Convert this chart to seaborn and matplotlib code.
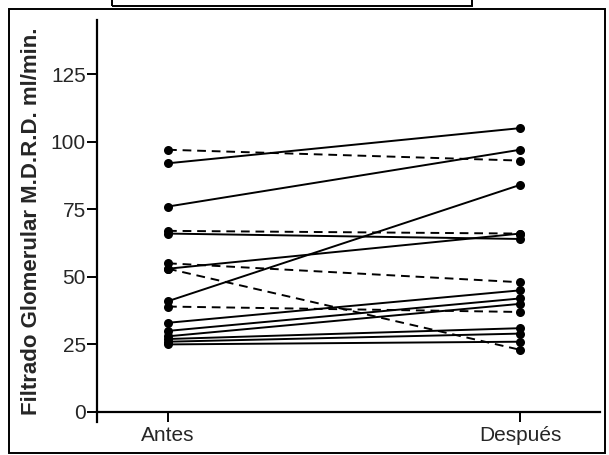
import pandas as pd
import numpy as np
import matplotlib
matplotlib.use('Agg')
import matplotlib.pyplot as plt
import seaborn as sns
from matplotlib.patches import Rectangle

# Valores (ml/min), un paciente por posicion
antes = [97, 92, 76, 67, 66, 55, 53, 53, 41, 39, 33, 30, 28, 27, 26, 25]
despues = [93, 105, 97, 66, 64, 48, 66, 23, 84, 37, 45, 42, 40, 31, 29, 26]
tipo_linea = ['discontinua', 'continua', 'continua', 'discontinua', 'continua',
              'discontinua', 'continua', 'discontinua', 'continua', 'discontinua',
              'continua', 'continua', 'continua', 'continua', 'continua', 'continua']
momentos = ['Antes', 'Después']
y_ticks = [0, 25, 50, 75, 100, 125]

sns.set_style('ticks')
plt.rcParams['font.family'] = ['Liberation Sans', 'DejaVu Sans']

rows = []
for i in range(len(antes)):
    rows.append({'paciente': i, 'x': 0, 'valor': antes[i], 'linea': tipo_linea[i]})
    rows.append({'paciente': i, 'x': 1, 'valor': despues[i], 'linea': tipo_linea[i]})
df = pd.DataFrame(rows)

fig = plt.figure(figsize=(6.09, 4.55), dpi=100)
ax = fig.add_axes([97 / 609, 1 - 422 / 455, (600 - 97) / 609, (422 - 20) / 455])

sns.lineplot(data=df, x='x', y='valor', units='paciente', estimator=None,
             style='linea', dashes={'continua': '', 'discontinua': (4.5, 3)},
             markers={'continua': 'o', 'discontinua': 'o'}, color='black',
             linewidth=1.4, markersize=6.5, markeredgewidth=0,
             legend=False, ax=ax)

ax.set_xlim(-0.2017, 1.227)
ax.set_ylim(-3.7, 145)
ax.spines['bottom'].set_position(('data', 0))
ax.spines['top'].set_visible(False)
ax.spines['right'].set_visible(False)
for s in ['left', 'bottom']:
    ax.spines[s].set_linewidth(1.6)
    ax.spines[s].set_color('black')

ax.set_xticks([0, 1])
ax.set_xticklabels(momentos, fontsize=15)
ax.set_yticks(y_ticks)
ax.set_yticklabels([str(t) for t in y_ticks], fontsize=15)
ax.tick_params(axis='both', length=7, width=1.4, color='black', pad=1)
ax.tick_params(axis='x', pad=3)
ax.set_xlabel('')
ax.set_ylabel('Filtrado Glomerular M.D.R.D. ml/min.', fontsize=16,
              fontweight='bold', labelpad=6)

# marco de la figura escaneada
fig.patches.append(Rectangle((9 / 609, 2 / 455), 596 / 609, 444 / 455,
                             transform=fig.transFigure, fill=False,
                             edgecolor='black', linewidth=1.4))
fig.patches.append(Rectangle((112 / 609, 449 / 455), 360 / 609, 0.05,
                             transform=fig.transFigure, fill=False,
                             edgecolor='black', linewidth=1.4))

fig.savefig('out.png', dpi=100)
